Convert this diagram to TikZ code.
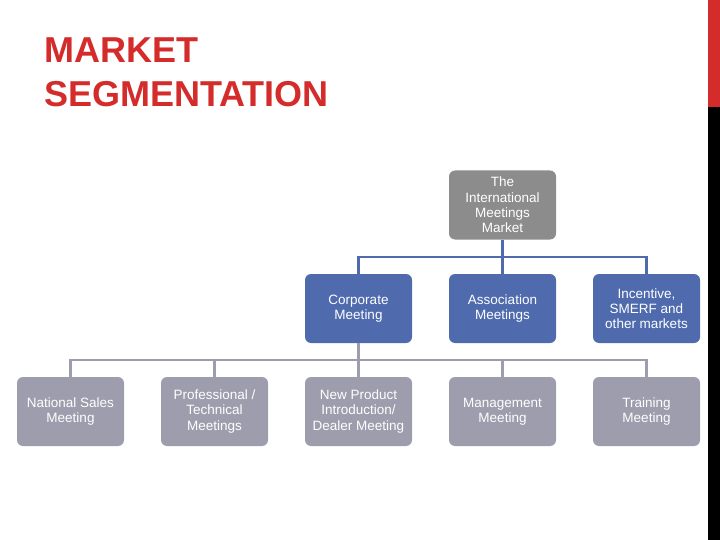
\documentclass[tikz,border=0pt]{standalone}
\usepackage{fontspec}
\setmainfont{Liberation Sans}
\begin{document}
\begin{tikzpicture}[x=1pt,y=-1pt,
  box/.style={rounded corners=6pt, minimum width=107pt, minimum height=69pt, text=white, align=center, font=\fontsize{13.5}{15.3}\selectfont, inner sep=2pt},
  top/.style={box, fill=topgray},
  blue/.style={box, fill=boxblue},
  gray/.style={box, fill=boxgray},
  bline/.style={draw=boxblue, line width=2.5pt},
  gline/.style={draw=boxgray, line width=2.5pt}]
\definecolor{topgray}{HTML}{8C8C8C}
\definecolor{boxblue}{HTML}{4F6BAE}
\definecolor{boxgray}{HTML}{9D9DAD}
\definecolor{tred}{HTML}{D42B2B}
\useasboundingbox (0,0) rectangle (720,540);
\fill[black] (708,0) rectangle (720,540);
\fill[tred] (708,0) rectangle (720,107);
\node[anchor=west, text=tred, font=\bfseries\fontsize{36}{44}\selectfont, align=left, inner sep=0pt] (title) at (44,72) {MARKET\\SEGMENTATION};
\node[top] (t) at (502.5,205) {The\\International\\Meetings\\Market};
\node[blue] (c) at (358.5,308.5) {Corporate\\Meeting};
\node[blue] (a) at (502.5,308.5) {Association\\Meetings};
\node[blue] (i) at (646.5,308.5) {Incentive,\\SMERF and\\other markets};
\node[gray] (n) at (70.5,411.5) {National Sales\\Meeting};
\node[gray] (p) at (214.5,411.5) {Professional /\\Technical\\Meetings};
\node[gray] (np) at (358.5,411.5) {New Product\\Introduction/\\Dealer Meeting};
\node[gray] (m) at (502.5,411.5) {Management\\Meeting};
\node[gray] (tr) at (646.5,411.5) {Training\\Meeting};
\draw[bline] (t.south) |- (358.5,257) -- (c.north);
\draw[bline] (t.south) -- (a.north);
\draw[bline] (358.5,257) -| (i.north);
\draw[gline] (c.south) |- (70.5,360) -- (n.north);
\draw[gline] (70.5,360) -| (tr.north);
\foreach \k in {p,np,m} \draw[gline] (\k.north) -- (\k.north |- 0,360);
\end{tikzpicture}
\end{document}
